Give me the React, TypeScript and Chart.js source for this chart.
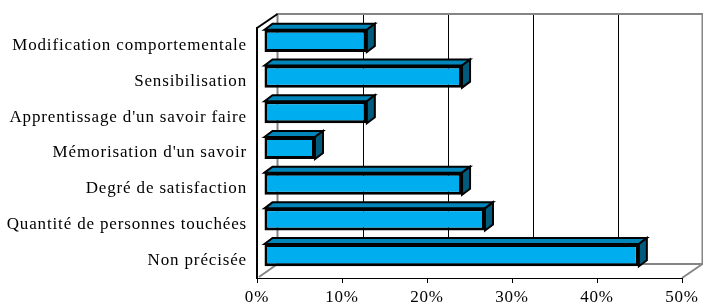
import React, { useEffect, useRef } from "react";
import { Chart, registerables } from "chart.js";

Chart.register(...registerables);

const categories = [
  "Modification comportementale",
  "Sensibilisation",
  "Apprentissage d'un savoir faire",
  "Mémorisation d'un savoir",
  "Degré de satisfaction",
  "Quantité de personnes touchées",
  "Non précisée",
];
const values = [12.1, 23.3, 12.1, 6.0, 23.3, 26.0, 44.1];
const xTicks = [0, 10, 20, 30, 40, 50];

const FONT = "'Liberation Serif', 'Times New Roman', serif";
// 3D geometry
const DX = 20.5;
const DY = -14;
const FX = 7; // bar front face offset
const FY = -5;
const BX = 8; // bar depth
const BY = -6;

const box3d = {
  id: "box3d",
  beforeDraw(chart: any) {
    const ctx = chart.ctx;
    const { left, right, top, bottom } = chart.chartArea;
    const xs = chart.scales.x;
    ctx.save();
    // back wall grid lines
    ctx.strokeStyle = "#000";
    ctx.lineWidth = 1;
    xTicks.slice(1, -1).forEach((v) => {
      const x = Math.round(xs.getPixelForValue(v) + DX) + 0.5;
      ctx.beginPath();
      ctx.moveTo(x, top + DY);
      ctx.lineTo(x, bottom + DY);
      ctx.stroke();
    });
    // gray edges
    ctx.strokeStyle = "#858585";
    ctx.lineWidth = 2;
    ctx.beginPath();
    ctx.moveTo(left + DX, bottom + DY);
    ctx.lineTo(left + DX, top + DY);
    ctx.lineTo(right + DX, top + DY);
    ctx.lineTo(right + DX, bottom + DY);
    ctx.lineTo(left + DX, bottom + DY);
    ctx.stroke();
    ctx.beginPath();
    ctx.moveTo(left + 2, bottom - 1);
    ctx.lineTo(left + DX, bottom + DY);
    ctx.moveTo(right, bottom);
    ctx.lineTo(right + DX, bottom + DY);
    ctx.stroke();
    // black top-left diagonal
    ctx.strokeStyle = "#000";
    ctx.lineWidth = 2;
    ctx.beginPath();
    ctx.moveTo(left, top);
    ctx.lineTo(left + DX, top + DY);
    ctx.stroke();
    ctx.restore();
    ctx.letterSpacing = "0.85px";
  },
  beforeDatasetsDraw(chart: any) {
    chart.ctx.save();
    chart.ctx.translate(FX, FY);
  },
  afterDatasetsDraw(chart: any) {
    const ctx = chart.ctx;
    ctx.restore();
    const meta = chart.getDatasetMeta(0);
    ctx.save();
    ctx.lineJoin = "miter";
    meta.data.forEach((el: any) => {
      const { x, y, base, height } = el.getProps(["x", "y", "base", "height"], true);
      const x0 = base + FX;
      const x1 = x + FX;
      const y0 = y - height / 2 + FY;
      const y1 = y + height / 2 + FY;
      ctx.lineWidth = 2;
      ctx.strokeStyle = "#000";
      // top face
      ctx.beginPath();
      ctx.moveTo(x0, y0);
      ctx.lineTo(x0 + BX, y0 + BY);
      ctx.lineTo(x1 + BX, y0 + BY);
      ctx.lineTo(x1, y0);
      ctx.closePath();
      ctx.fillStyle = "#0086BA";
      ctx.fill();
      ctx.stroke();
      // side face
      ctx.beginPath();
      ctx.moveTo(x1, y0);
      ctx.lineTo(x1 + BX, y0 + BY);
      ctx.lineTo(x1 + BX, y1 + BY);
      ctx.lineTo(x1, y1);
      ctx.closePath();
      ctx.fillStyle = "#005B7C";
      ctx.fill();
      ctx.stroke();
    });
    ctx.restore();
  },
};

export default function App() {
  const ref = useRef<HTMLCanvasElement>(null);
  useEffect(() => {
    document.body.style.margin = "0";
    const chart = new Chart(ref.current!, {
      type: "bar",
      data: {
        labels: categories,
        datasets: [
          {
            data: values,
            backgroundColor: "#00ADEF",
            borderColor: "#000",
            borderWidth: 3,
            borderSkipped: false,
            categoryPercentage: 1,
            barPercentage: 0.62,
          },
        ],
      },
      options: {
        indexAxis: "y",
        responsive: false,
        animation: false,
        events: [],
        layout: { padding: { top: 28, right: 21, left: 0, bottom: 0 } },
        plugins: { legend: { display: false }, tooltip: { enabled: false } },
        scales: {
          x: {
            min: 0,
            max: 50,
            afterFit: (s: any) => {
              s.height = 26;
            },
            afterBuildTicks: (s: any) => {
              s.ticks = xTicks.map((v) => ({ value: v }));
            },
            ticks: {
              callback: (v: any) => v + "%",
              font: { family: FONT, size: 17 },
              color: "#000",
              padding: 4,
              maxRotation: 0,
            },
            grid: {
              drawOnChartArea: false,
              drawTicks: true,
              tickLength: 5,
              color: "#000",
              lineWidth: 1,
            },
            border: { display: true, color: "#000", width: 1 },
          },
          y: {
            afterFit: (s: any) => {
              s.width = 257;
            },
            ticks: {
              font: { family: FONT, size: 17 },
              color: "#000",
              padding: 10,
            },
            grid: { display: false, drawTicks: false },
            border: { display: true, color: "#000", width: 2 },
          },
        },
      },
      plugins: [box3d],
    });
    return () => chart.destroy();
  }, []);
  return (
    <div style={{ width: 703, height: 304 }}>
      <canvas ref={ref} width={703} height={304} />
    </div>
  );
}
